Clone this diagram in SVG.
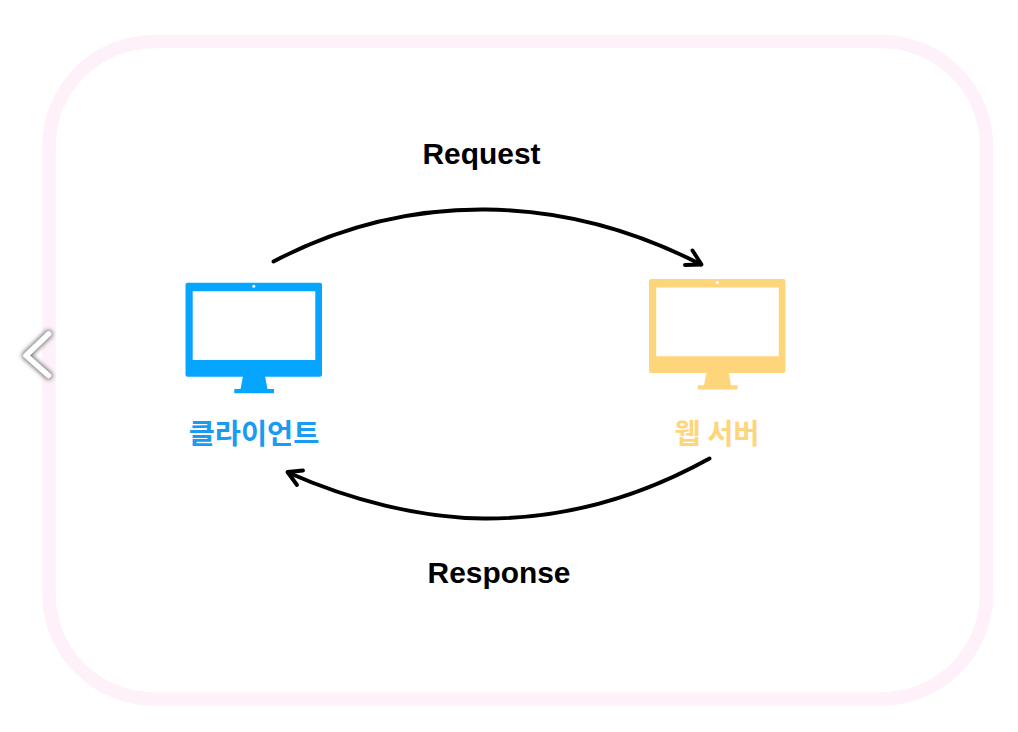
<svg xmlns="http://www.w3.org/2000/svg" width="1018" height="732" viewBox="0 0 1018 732">
<defs>
<style>
.lbl{font-family:"Liberation Sans",Arial,sans-serif;font-weight:700;font-size:29.9px;fill:#000;text-anchor:middle}
.kr{font-family:"Noto Sans CJK KR","Noto Sans",sans-serif;font-weight:700;font-size:28.4px;text-anchor:middle}
.arc{fill:none;stroke:#000;stroke-width:3.9;stroke-linecap:round;stroke-linejoin:round}
</style>
<filter id="blur" x="-50%" y="-50%" width="200%" height="200%"><feGaussianBlur stdDeviation="2"/></filter>
<g id="monitor">
<path fill-rule="evenodd" d="M187.5 282.7H320a2 2 0 0 1 2 2V374.7a2 2 0 0 1 -2 2H187.5a2 2 0 0 1 -2 -2V284.7a2 2 0 0 1 2 -2ZM192.7 291.3V360H315.3V291.3Z"/>
<path d="M243 376H265L267.5 389H274V393.2H234.3V389H240.5Z"/>
<circle cx="253.800" cy="286.300" r="1.500" fill="#fff"/>
</g>
</defs>
<rect width="1018" height="732" fill="#fff"/>
<rect id="frame" x="49" y="41.500" width="937.500" height="657.500" rx="105" ry="105" fill="none" stroke="#fef1fa" stroke-width="13.500"/>
<g id="back-chevron" fill="none" stroke-linecap="round" stroke-linejoin="round">
<path d="M48.500 334L26 355.500L48.500 375.500" stroke="#777" stroke-width="8" filter="url(#blur)"/>
<path d="M48.500 334L26 355.500L48.500 375.500" stroke="#fff" stroke-width="5.600"/>
</g>
<g id="client">
<use href="#monitor" fill="#06a5ff"/>
<text class="kr" x="254" y="443.500" fill="#1a9bf2">클라이언트</text>
</g>
<g id="server">
<use href="#monitor" x="463.500" y="-3.700" fill="#ffd57b"/>
<text class="kr" x="717" y="443.500" fill="#ffd57b">웹 서버</text>
</g>
<g id="connectors">
<path class="arc" d="M273.500 261.500C345 224 415 209 485 209.500C558 210 632 229 701 264.500"/>
<path class="arc" d="M685 265L701.500 264.500L692.500 250.500"/>
<path class="arc" d="M709.500 458.500C640 497 565 519 484 518.500C420 518 350 500 288 472.500"/>
<path class="arc" d="M303 470.500L287.500 472L297 485"/>
</g>
<text id="request" class="lbl" x="481.500" y="164">Request</text>
<text id="response" class="lbl" x="499" y="583">Response</text>
</svg>
